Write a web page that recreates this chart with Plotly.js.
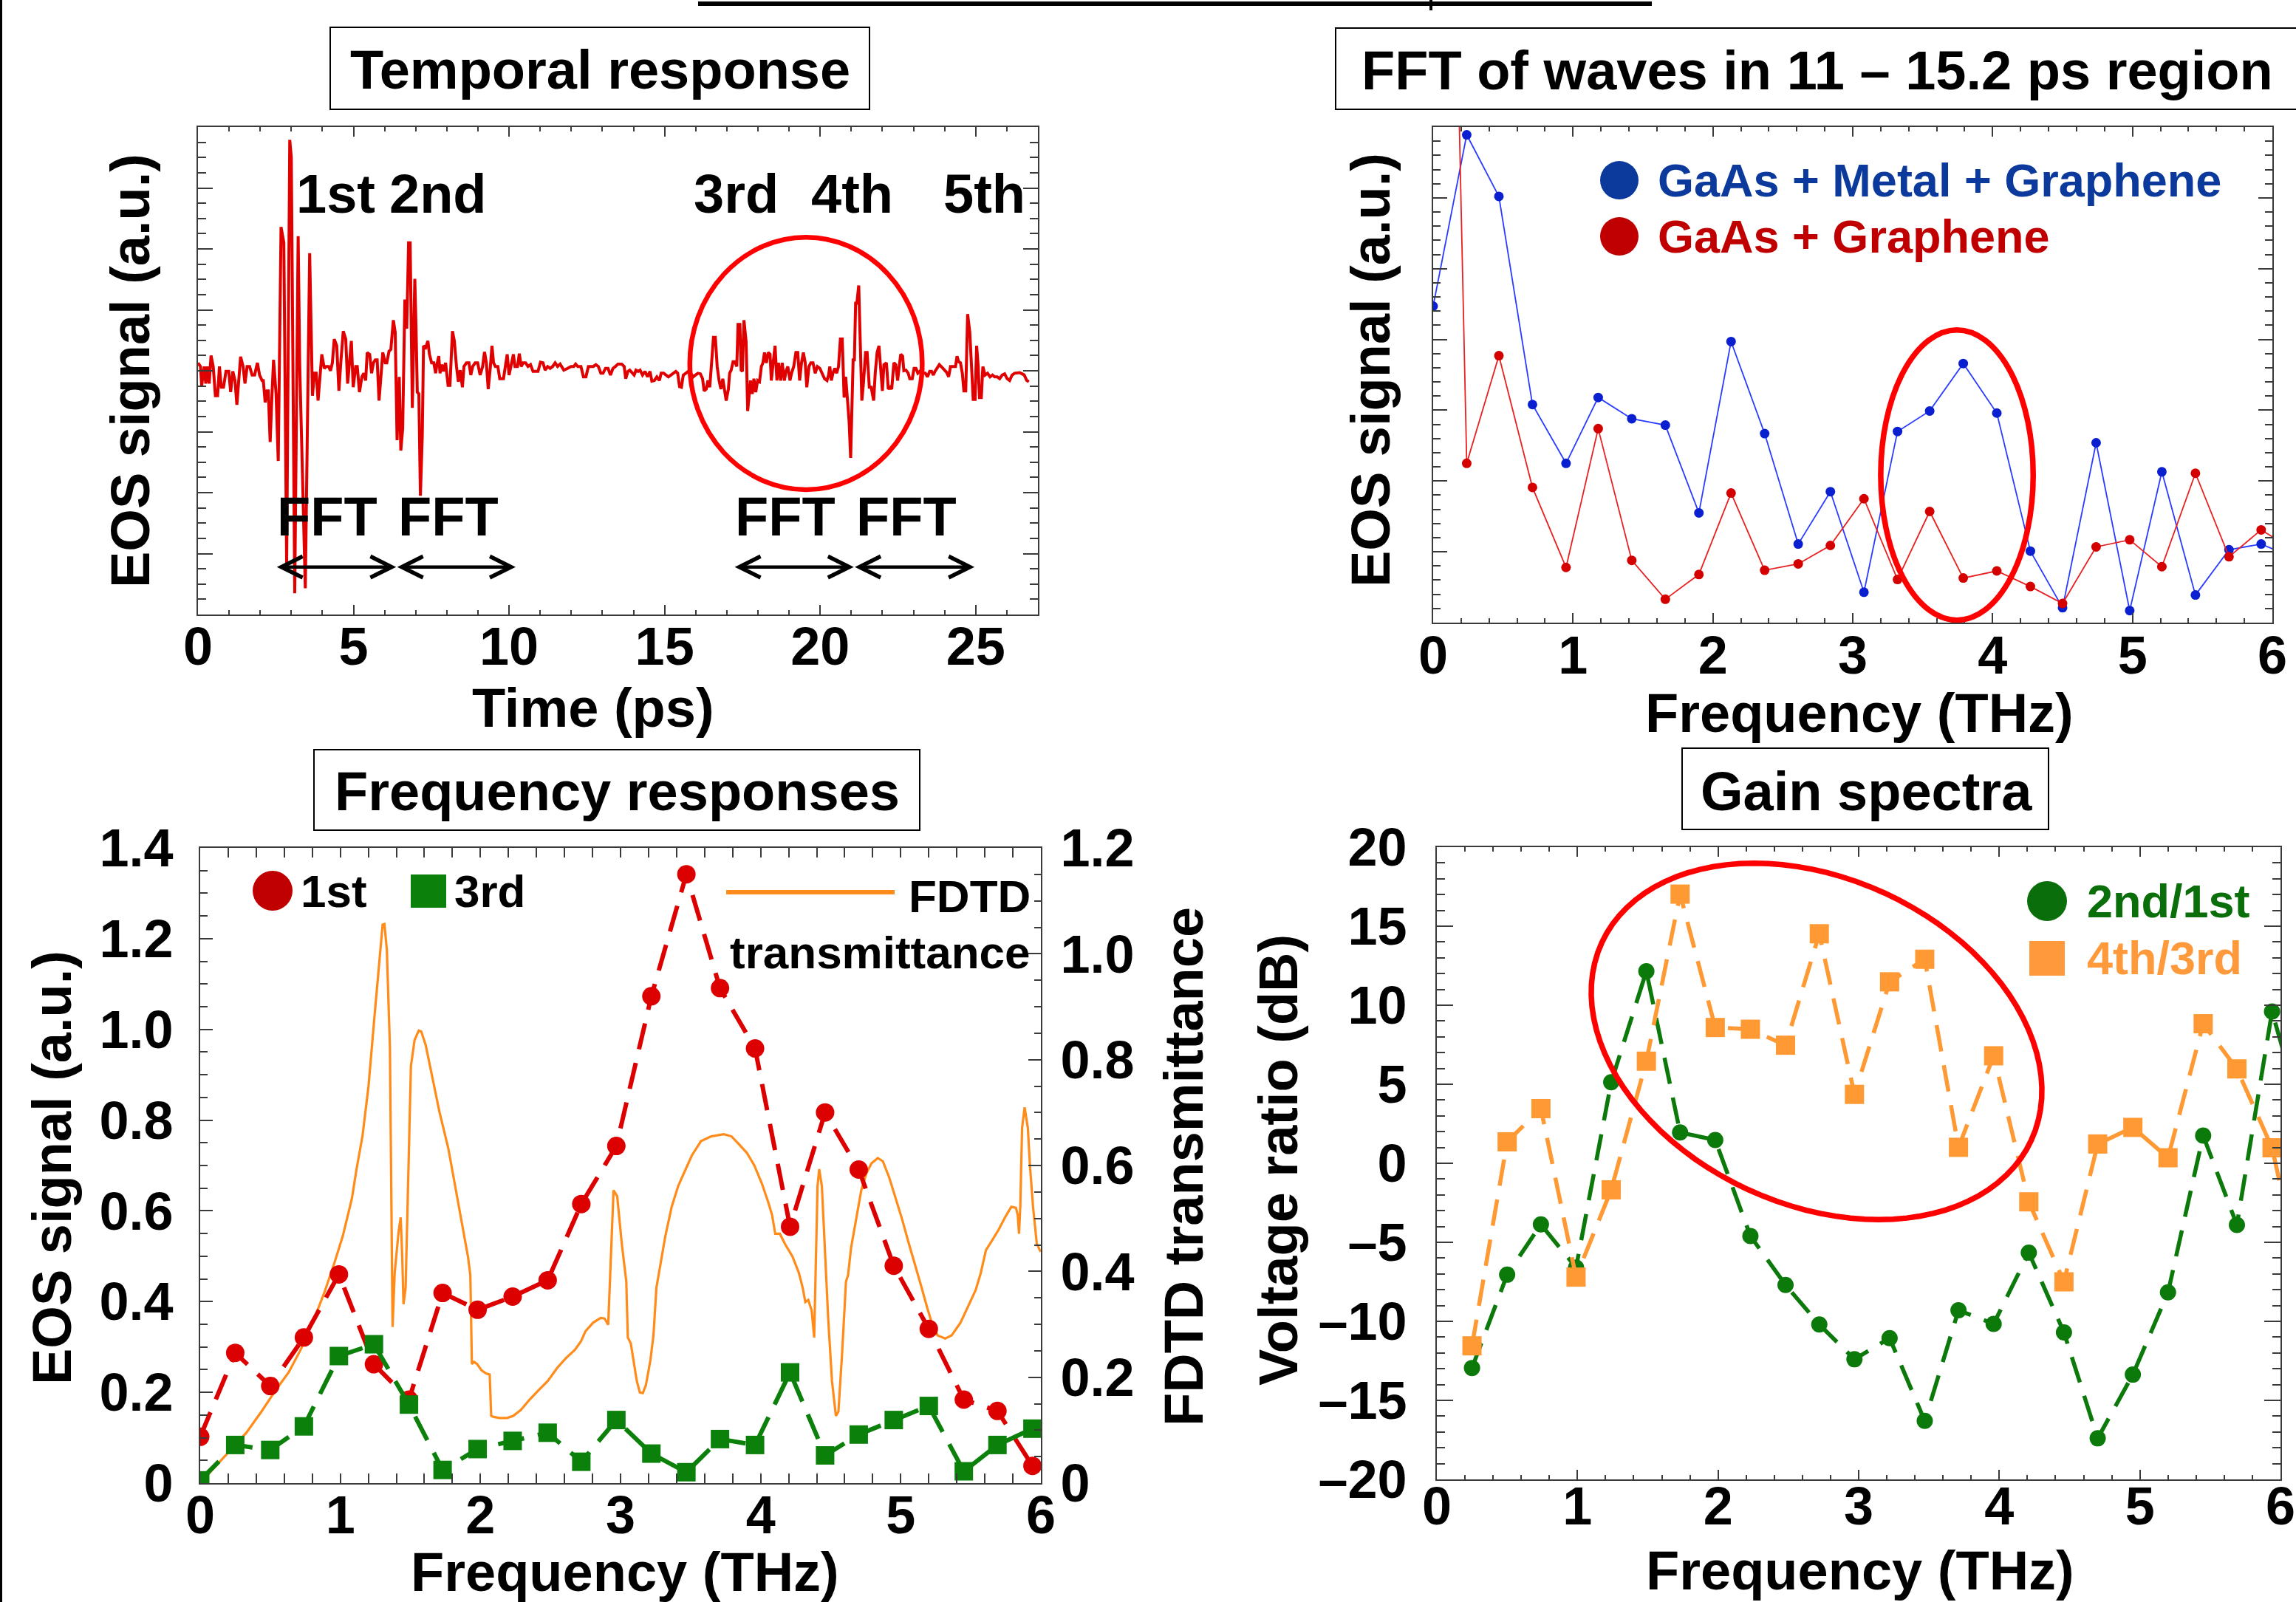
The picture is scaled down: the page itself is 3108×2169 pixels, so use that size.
<!DOCTYPE html>
<html><head><meta charset="utf-8">
<script src="https://cdn.plot.ly/plotly-3.0.1.min.js"></script>
<style>html,body{margin:0;padding:0;background:#fff;}#chart{width:3108px;height:2169px;}</style>
</head><body><div id="chart"></div>
<script>
// ---------- DATA ----------
// Panel 1: temporal response (ps, a.u.)
const timePs = [
0.00,0.08,0.12,0.20,0.25,0.30,0.36,0.42,0.49,0.56,0.63,0.69,0.75,0.82,0.90,0.99,1.05,1.12,1.19,1.25,
1.31,1.37,1.45,1.51,1.58,1.66,1.74,1.82,1.91,1.98,2.06,2.10,2.16,2.22,2.26,2.32,2.38,2.43,2.51,2.58,
2.67,2.76,2.85,2.95,3.00,3.11,3.22,3.27,3.45,3.59,3.64,3.68,3.74,3.80,3.86,3.92,3.98,4.06,4.12,4.20,
4.26,4.32,4.38,4.46,4.53,4.59,4.67,4.75,4.81,4.87,4.93,4.99,5.07,5.12,5.19,5.27,5.33,5.39,5.44,5.52,
5.58,5.64,5.70,5.76,5.82,5.88,5.94,6.02,6.07,6.14,6.20,6.28,6.34,6.40,6.47,6.52,6.58,6.65,6.71,6.77,
6.82,6.89,6.97,7.01,7.05,7.10,7.15,7.21,7.25,7.32,7.39,7.44,7.51,7.58,7.64,7.68,7.74,7.78,7.84,7.89,
7.96,8.04,8.10,8.18,8.24,8.31,8.37,8.43,8.50,8.55,8.63,8.71,8.77,8.83,8.91,8.99,9.07,9.15,9.21,9.27,
9.33,9.40,9.45,9.50,9.56,9.64,9.70,9.82,9.88,9.94,10.00,10.06,10.14,10.19,10.27,10.33,10.39,10.45,10.53,10.61,
10.69,10.77,10.85,10.93,11.01,11.09,11.16,11.24,11.32,11.40,11.48,11.56,11.64,11.76,11.88,11.99,12.08,12.14,12.21,12.31,
12.39,12.47,12.55,12.63,12.71,12.79,12.87,12.95,13.02,13.10,13.18,13.26,13.34,13.42,13.50,13.62,13.70,13.75,13.82,
13.88,13.96,14.02,14.08,14.15,14.21,14.29,14.37,14.45,14.53,14.59,14.67,14.75,14.83,14.89,14.97,15.04,15.12,15.20,15.28,
15.36,15.42,15.48,15.54,15.60,15.68,15.76,15.84,15.92,15.99,16.07,16.15,16.22,16.27,16.34,16.39,16.45,16.51,16.57,16.63,
16.69,16.75,16.81,16.87,16.92,16.98,17.05,17.09,17.14,17.20,17.26,17.32,17.36,17.42,17.46,17.50,17.55,17.62,17.67,17.72,
17.76,17.82,17.87,17.93,17.99,18.05,18.11,18.16,18.21,18.27,18.33,18.39,18.43,18.49,18.55,18.61,18.66,18.73,18.78,18.85,
18.90,18.96,19.03,19.08,19.15,19.22,19.28,19.34,19.40,19.46,19.52,19.57,19.64,19.70,19.77,19.84,19.91,19.99,20.07,20.14,
20.22,20.27,20.31,20.36,20.41,20.47,20.53,20.59,20.65,20.71,
20.77,20.82,20.88,20.93,20.98,21.04,21.06,21.10,21.14,21.18,21.24,21.28,21.34,21.39,21.46,21.51,21.58,21.64,21.72,21.77,
21.83,21.89,21.95,22.00,22.05,22.13,22.19,22.25,22.30,22.37,22.43,22.49,22.54,22.59,22.65,22.69,22.76,22.83,22.88,22.96,
23.02,23.08,23.14,23.22,23.30,23.38,23.45,23.52,23.58,23.64,23.69,23.75,23.83,23.89,23.95,24.02,24.07,24.13,24.19,24.27,
24.35,24.40,24.45,24.51,24.57,24.62,24.68,24.74,24.81,24.86,24.92,24.98,25.03,25.08,25.12,25.18,25.23,25.30,25.38,25.46,
25.54,25.61,25.69,25.77,25.85,25.93,26.01,26.09,26.17,26.25,26.33,26.41,26.49,26.56,26.64,26.71];
const eosSignal = [
0.13,0.07,-0.24,0.07,-0.21,0.07,-0.21,0.25,0.07,-0.41,-0.41,0.07,-0.27,-0.27,-0.01,-0.01,-0.35,-0.01,-0.16,-0.56,
-0.16,0.23,0.07,-0.21,0.07,0.07,-0.07,-0.07,0.13,-0.07,-0.16,-0.16,-0.52,-0.33,-0.33,-1.17,-0.38,0.18,-0.38,-1.48,
2.36,2.10,-3.20,3.79,3.50,-3.65,2.21,0.10,-3.57,1.93,0.63,-0.41,-0.04,-0.04,-0.49,-0.04,0.27,0.04,0.07,0.07,
0.00,0.13,0.52,0.41,-0.33,0.13,0.65,0.52,-0.21,0.13,0.49,-0.27,0.07,0.07,-0.35,-0.10,-0.04,-0.16,0.30,0.27,
-0.04,0.13,0.18,0.18,-0.49,-0.10,0.30,0.13,0.13,0.32,0.35,0.83,0.63,-1.14,-0.10,-1.31,-0.95,1.17,0.69,2.10,
2.10,-0.61,1.51,0.69,-0.35,-0.38,-2.05,-1.06,0.41,0.38,0.49,0.27,0.13,0.13,-0.04,0.10,0.24,-0.04,0.10,-0.01,
0.13,-0.24,-0.24,0.65,0.49,0.07,-0.18,0.01,-0.27,0.07,0.13,0.13,-0.07,0.07,0.13,0.13,-0.07,0.07,0.31,0.13,
-0.30,0.07,0.41,0.13,0.07,0.07,-0.13,-0.13,0.07,0.27,-0.07,0.07,0.27,0.07,0.07,0.28,0.07,0.13,0.13,0.07,
0.10,-0.01,-0.01,-0.01,0.14,0.13,0.01,0.07,0.04,0.07,0.13,0.07,0.11,0.01,0.04,0.07,0.07,0.11,0.07,0.07,
-0.10,-0.10,0.07,0.07,0.07,0.10,0.07,-0.04,-0.04,0.04,0.04,-0.07,0.04,0.07,0.11,0.11,0.07,-0.13,-0.01,
0.01,-0.04,-0.07,0.01,-0.01,0.01,-0.07,-0.01,-0.10,-0.01,-0.17,-0.16,-0.10,-0.16,-0.04,-0.04,-0.07,-0.10,-0.07,-0.04,
-0.01,-0.04,-0.26,-0.27,-0.07,-0.04,-0.01,-0.04,-0.10,-0.07,-0.04,-0.05,-0.13,-0.33,-0.30,-0.16,-0.27,0.13,0.55,0.55,
0.07,-0.16,-0.30,-0.13,-0.30,-0.49,-0.30,-0.04,0.01,0.15,0.15,0.07,0.76,0.76,0.01,-0.01,0.83,0.47,-0.66,-0.38,
-0.16,-0.38,-0.13,-0.35,-0.16,-0.18,0.07,0.13,0.30,0.13,0.30,0.27,-0.16,0.13,0.41,-0.16,0.13,-0.16,0.13,-0.16,
-0.01,0.07,-0.16,-0.04,0.07,0.30,0.30,-0.16,0.13,0.30,0.13,-0.27,0.07,0.13,0.13,-0.04,0.07,0.04,-0.04,-0.13,
-0.16,-0.07,0.07,-0.16,-0.04,0.04,-0.04,0.07,0.52,0.52,
-0.44,-0.10,-0.49,-0.83,-1.43,-0.44,0.18,0.18,1.11,1.11,1.40,0.63,-0.49,-0.21,0.30,0.30,-0.27,-0.27,-0.49,-0.04,
0.30,0.41,0.07,-0.33,0.10,0.13,-0.30,-0.27,-0.30,0.13,0.10,-0.16,0.07,0.27,0.24,0.00,0.01,-0.04,-0.13,-0.13,
0.04,0.04,-0.04,0.00,-0.04,-0.04,-0.10,-0.01,-0.01,-0.07,-0.01,0.04,0.10,0.07,0.04,0.01,-0.03,-0.10,0.07,0.07,
0.07,0.24,0.15,0.13,-0.04,-0.33,-0.33,0.93,0.63,0.13,-0.47,-0.47,0.41,0.07,-0.44,-0.44,0.07,-0.07,-0.04,-0.10,
-0.07,-0.10,-0.10,-0.13,-0.07,-0.05,-0.13,-0.16,-0.07,-0.04,-0.04,-0.03,-0.05,-0.07,-0.16,-0.18];
const pulseLabels = ['1st','2nd','3rd','4th','5th'];

// Panel 2: FFT of 11-15.2 ps window
const fftFreq = [0,0.24,0.47,0.71,0.95,1.18,1.42,1.66,1.90,2.13,2.37,2.61,2.84,3.08,3.32,3.55,3.79,4.03,4.27,4.50,4.74,4.98,5.21,5.45,5.69,5.92,6.16];
const fftMetal = [4.47,6.89,6.02,3.08,2.25,3.18,2.88,2.79,1.55,3.97,2.67,1.11,1.85,0.43,2.70,2.99,3.66,2.96,1.01,0.21,2.54,0.17,2.13,0.39,1.03,1.11,0.91];
const fftBare  = [24,2.25,3.77,1.91,0.78,2.74,0.88,0.33,0.68,1.83,0.74,0.83,1.09,1.75,0.61,1.57,0.63,0.73,0.51,0.27,1.07,1.17,0.79,2.11,0.93,1.31,1.02];

// Panel 3: frequency responses
const freqResp = [0,0.25,0.50,0.74,0.99,1.24,1.49,1.73,1.98,2.23,2.48,2.72,2.97,3.22,3.47,3.71,3.96,4.21,4.46,4.70,4.95,5.20,5.45,5.69,5.94];
const resp1st = [0.102,0.287,0.214,0.321,0.460,0.262,0.184,0.419,0.382,0.411,0.447,0.615,0.743,1.073,1.342,1.091,0.958,0.565,0.817,0.691,0.479,0.340,0.184,0.159,0.038];
const resp3rd = [0.006,0.084,0.073,0.125,0.280,0.306,0.173,0.029,0.075,0.093,0.111,0.047,0.139,0.065,0.024,0.097,0.084,0.244,0.061,0.107,0.139,0.170,0.026,0.084,0.120];
const fdtdFreq = [0.000,0.114,0.222,0.329,0.437,0.545,0.631,0.717,0.803,0.889,0.953,1.018,1.083,1.115,1.158,1.201,1.244,1.276,1.302,1.315,
1.332,1.354,1.373,1.388,1.416,1.431,1.442,1.451,1.466,1.504,1.530,1.560,1.578,1.610,1.642,1.707,1.771,1.836,1.879,1.911,
1.928,1.939,1.954,1.976,2.008,2.040,2.066,2.077,2.094,2.137,2.191,2.234,2.288,2.352,2.417,2.481,2.546,2.610,2.675,2.718,
2.750,2.804,2.858,2.886,2.912,2.950,2.976,3.009,3.041,3.052,3.073,3.095,3.116,3.138,3.159,3.181,3.213,3.235,3.256,3.284,
3.320,3.365,3.411,3.465,3.511,3.574,3.647,3.737,3.792,3.846,3.901,3.955,4.010,4.055,4.082,4.104,4.137,4.173,4.227,4.273,
4.300,4.319,4.340,4.364,4.382,4.406,4.418,4.437,4.455,4.482,4.509,4.537,4.555,4.582,4.609,4.624,4.645,4.682,4.718,4.754,
4.791,4.836,4.872,4.918,4.963,5.009,5.054,5.099,5.145,5.190,5.226,5.263,5.317,5.363,5.426,5.481,5.535,5.571,5.608,5.644,
5.699,5.744,5.789,5.822,5.835,5.844,5.853,5.866,5.884,5.907,5.922,5.944,5.971,5.998];
const fdtdTrans = [0.000,0.033,0.064,0.095,0.135,0.178,0.209,0.252,0.303,0.362,0.412,0.467,0.538,0.592,0.655,0.749,0.882,0.984,1.055,1.056,
1.008,0.824,0.295,0.397,0.475,0.502,0.428,0.338,0.369,0.788,0.837,0.855,0.853,0.827,0.784,0.702,0.632,0.538,0.475,0.428,
0.393,0.225,0.229,0.225,0.213,0.207,0.205,0.127,0.125,0.123,0.123,0.127,0.138,0.158,0.176,0.193,0.217,0.236,0.252,0.268,
0.287,0.303,0.312,0.311,0.299,0.553,0.542,0.452,0.381,0.275,0.264,0.225,0.193,0.171,0.170,0.185,0.232,0.279,0.369,0.412,
0.467,0.522,0.561,0.593,0.620,0.646,0.655,0.659,0.655,0.640,0.624,0.600,0.565,0.530,0.506,0.471,0.471,0.452,0.428,0.397,
0.369,0.342,0.346,0.326,0.275,0.561,0.593,0.561,0.459,0.311,0.193,0.127,0.135,0.248,0.381,0.393,0.444,0.502,0.553,0.585,
0.604,0.614,0.608,0.577,0.538,0.499,0.456,0.416,0.373,0.330,0.299,0.279,0.273,0.279,0.303,0.334,0.365,0.397,0.440,0.455,
0.479,0.502,0.522,0.520,0.506,0.471,0.522,0.671,0.710,0.671,0.600,0.522,0.452,0.437];

// Panel 4: gain spectra (dB)
const gainFreq = [0.25,0.50,0.74,0.99,1.24,1.49,1.73,1.98,2.23,2.48,2.72,2.97,3.22,3.47,3.71,3.96,4.21,4.46,4.70,4.95,5.20,5.45,5.69,5.94,6.19];
const gain2nd1st = [-12.95,-7.05,-3.87,-6.6,5.13,12.15,1.95,1.47,-4.6,-7.7,-10.2,-12.4,-11.06,-16.3,-9.3,-10.16,-5.65,-10.7,-17.4,-13.37,-8.17,1.75,-3.9,9.6,1.8];
const gain4th3rd = [-11.55,1.36,3.46,-7.2,-1.68,6.46,17.03,8.59,8.48,7.47,14.52,4.36,11.48,12.91,1.01,6.8,-2.44,-7.5,1.22,2.27,0.35,8.83,5.97,0.98,-9];

const leftTicks = [0,0.2,0.4,0.6,0.8,1.0,1.2,1.4];
const leftTickText = ['0','0.2','0.4','0.6','0.8','1.0','1.2','1.4'];
const rightTicks = [0,0.2,0.4,0.6,0.8,1.0,1.2];
const rightTickText = ['0','0.2','0.4','0.6','0.8','1.0','1.2'];
const dbTicks = [-20,-15,-10,-5,0,5,10,15,20];
const dbTickText = ['\u201320','\u201315','\u201310','\u20135','0','5','10','15','20'];

// ---------- STYLE / LAYOUT ----------
const W = 3108, H = 2169;
const PX = x => x / W, PY = y => 1 - y / H;
const FONT = 'Liberation Sans, Arial, Helvetica, sans-serif';
const AX = '#3a3a3a';
const DASH = '36px,19px';

function axis(extra, minorDtick, minorLen) {
  return Object.assign({
    showline: true, linecolor: AX, linewidth: 2, mirror: 'allticks',
    ticks: 'inside', tickcolor: AX, tickwidth: 2,
    showgrid: false, zeroline: false, fixedrange: true,
    tickfont: {family: FONT, size: 72, color: '#000', weight: 'bold'},
    minor: {ticks: 'inside', dtick: minorDtick, ticklen: minorLen, tickcolor: AX, tickwidth: 2, showgrid: false}
  }, extra);
}

const traces = [
  {x: timePs, y: eosSignal, xaxis: 'x', yaxis: 'y', mode: 'lines', line: {color: '#e00000', width: 4}, hoverinfo: 'skip'},
  {x: fftFreq, y: fftMetal, xaxis: 'x2', yaxis: 'y2', mode: 'lines+markers', line: {color: '#2a3cff', width: 1.8}, marker: {color: '#0a1fd0', size: 13}},
  {x: fftFreq, y: fftBare, xaxis: 'x2', yaxis: 'y2', mode: 'lines+markers', line: {color: '#e82020', width: 1.8}, marker: {color: '#d40000', size: 13}},
  {x: fdtdFreq, y: fdtdTrans, xaxis: 'x3', yaxis: 'y3', mode: 'lines', line: {color: '#ff8c1a', width: 3.2}},
  {x: freqResp, y: resp1st, xaxis: 'x3', yaxis: 'y4', mode: 'lines+markers', line: {color: '#dd0000', width: 6, dash: DASH}, marker: {color: '#dd0000', size: 25, symbol: 'circle'}},
  {x: freqResp, y: resp3rd, xaxis: 'x3', yaxis: 'y4', mode: 'lines+markers', line: {color: '#0b800b', width: 6, dash: DASH}, marker: {color: '#0b800b', size: 25, symbol: 'square'}},
  {x: gainFreq, y: gain2nd1st, xaxis: 'x4', yaxis: 'y5', mode: 'lines+markers', line: {color: '#0b7a0b', width: 5.5, dash: DASH}, marker: {color: '#0b7a0b', size: 22, symbol: 'circle'}},
  {x: gainFreq, y: gain4th3rd, xaxis: 'x4', yaxis: 'y5', mode: 'lines+markers', line: {color: '#ff9933', width: 5.5, dash: DASH}, marker: {color: '#ff9933', size: 26, symbol: 'square'}}
];

function T(x, y, text, size, o) {
  return Object.assign({xref: 'paper', yref: 'paper', x: x, y: y, text: text, showarrow: false,
    xanchor: 'center', yanchor: 'middle', font: {family: FONT, size: size, color: '#000', weight: 'bold'}}, o || {});
}
function D(x, y, text) {
  return {xref: 'x', yref: 'y', x: x, y: y, text: text, showarrow: false, xanchor: 'center', yanchor: 'middle',
    font: {family: FONT, size: 74, color: '#000', weight: 'bold'}};
}
function arrow(x0, x1, y) {
  return {xref: 'x', yref: 'y', axref: 'x', ayref: 'y', x: x1, y: y, ax: x0, ay: y, text: '', showarrow: true,
    arrowside: 'end+start', arrowhead: 5, startarrowhead: 5, arrowsize: 1.25, startarrowsize: 1.25,
    arrowwidth: 4.5, arrowcolor: '#000', standoff: 0, startstandoff: 0};
}

const labelT = [4.43, 7.71, 17.31, 21.02, 25.29];
const annotations = [
  // box titles
  T(PX(813), PY(95), 'Temporal response', 74),
  T(PX(2460), PY(96), 'FFT of waves in 11 \u2013 15.2 ps region', 74),
  T(PX(836), PY(1071), 'Frequency responses', 74),
  T(PX(2526), PY(1071), 'Gain spectra', 74),
  // axis titles
  T(PX(176), PY(502), 'EOS signal (a.u.)', 74, {textangle: -90}),
  T(PX(803), PY(958), 'Time (ps)', 74),
  T(PX(1855), PY(501), 'EOS signal (a.u.)', 74, {textangle: -90}),
  T(PX(2517), PY(966), 'Frequency (THz)', 74),
  T(PX(70), PY(1581), 'EOS signal (a.u.)', 74, {textangle: -90}),
  T(PX(1602), PY(1580), 'FDTD transmittance', 74, {textangle: -90}),
  T(PX(846), PY(2128), 'Frequency (THz)', 74),
  T(PX(1730), PY(1570), 'Voltage ratio (dB)', 74, {textangle: -90}),
  T(PX(2518), PY(2126), 'Frequency (THz)', 74),
  // legends
  T(PX(2242), PY(244), 'GaAs + Metal + Graphene', 63, {xanchor: 'left', font: {family: FONT, size: 63, color: '#0b3a9c', weight: 'bold'}}),
  T(PX(2242), PY(320), 'GaAs + Graphene', 63, {xanchor: 'left', font: {family: FONT, size: 63, color: '#c00000', weight: 'bold'}}),
  T(PX(405), PY(1206), '1st', 62, {xanchor: 'left'}),
  T(PX(613), PY(1206), '3rd', 62, {xanchor: 'left'}),
  T(PX(1397), PY(1213), 'FDTD', 62, {xanchor: 'right'}),
  T(PX(1397), PY(1289), 'transmittance', 62, {xanchor: 'right'}),
  T(PX(2823), PY(1220), '2nd/1st', 63, {xanchor: 'left', font: {family: FONT, size: 63, color: '#0a6e0a', weight: 'bold'}}),
  T(PX(2823), PY(1297), '4th/3rd', 63, {xanchor: 'left', font: {family: FONT, size: 63, color: '#ff9a3c', weight: 'bold'}}),
  // panel 1 labels
  D(4.15, -2.40, 'FFT'), D(8.04, -2.40, 'FFT'), D(18.88, -2.40, 'FFT'), D(22.77, -2.40, 'FFT'),
  arrow(2.50, 6.37, -3.22), arrow(6.37, 10.21, -3.22), arrow(17.22, 21.08, -3.22), arrow(21.08, 24.96, -3.22)
];
pulseLabels.forEach((t, i) => annotations.push(D(labelT[i], 2.90, t)));

// tilted ellipse for gain spectra (pixel geometry -> paper)
function tiltedEllipse(cx, cy, a, b, deg) {
  const th = deg * Math.PI / 180; let p = '';
  for (let i = 0; i <= 96; i++) {
    const t = i / 96 * 2 * Math.PI;
    const x = cx + a * Math.cos(t) * Math.cos(th) - b * Math.sin(t) * Math.sin(th);
    const y = cy + a * Math.cos(t) * Math.sin(th) + b * Math.sin(t) * Math.cos(th);
    p += (i ? 'L' : 'M') + PX(x).toFixed(5) + ',' + PY(y).toFixed(5);
  }
  return p + 'Z';
}
function pcircle(cx, cy, r, color) {
  return {type: 'circle', xref: 'paper', yref: 'paper', x0: PX(cx - r), x1: PX(cx + r), y0: PY(cy + r), y1: PY(cy - r),
    fillcolor: color, line: {width: 0}};
}
function prect(x0, y0, x1, y1, o) {
  return Object.assign({type: 'rect', xref: 'paper', yref: 'paper', x0: PX(x0), x1: PX(x1), y0: PY(y1), y1: PY(y0),
    line: {color: '#000', width: 2}, fillcolor: 'rgba(0,0,0,0)'}, o || {});
}

const shapes = [
  // title boxes
  prect(447, 37, 1177, 148), prect(1808, 38, 3140, 148), prect(425, 1015, 1245, 1124), prect(2277, 1013, 2773, 1123),
  // page decorations
  {type: 'line', xref: 'paper', yref: 'paper', x0: PX(945), x1: PX(2236), y0: PY(5), y1: PY(5), line: {color: '#000', width: 6}},
  {type: 'line', xref: 'paper', yref: 'paper', x0: PX(1937), x1: PX(1937), y0: PY(0), y1: PY(14), line: {color: '#000', width: 4}},
  {type: 'line', xref: 'paper', yref: 'paper', x0: PX(1.5), x1: PX(1.5), y0: 0, y1: 1, line: {color: '#000', width: 3}},
  // highlight ellipses
  {type: 'circle', xref: 'x', yref: 'y', x0: 15.81, x1: 23.28, y0: -1.95, y1: 2.19, line: {color: '#ff0000', width: 6.5}},
  {type: 'circle', xref: 'x2', yref: 'y2', x0: 3.20, x1: 4.29, y0: 0.035, y1: 4.135, line: {color: '#ff0000', width: 7.5}},
  {type: 'path', xref: 'paper', yref: 'paper', path: tiltedEllipse(2459, 1410, 320, 221, 24.7), line: {color: '#ff0000', width: 7.5}},
  // legend symbols
  pcircle(2192, 244, 26, '#0b3a9c'), pcircle(2192, 320, 26, '#c00000'),
  pcircle(369, 1206, 27, '#c00000'), prect(556, 1184, 604, 1229, {fillcolor: '#0b800b', line: {width: 0}}),
  {type: 'line', xref: 'paper', yref: 'paper', x0: PX(983), x1: PX(1211), y0: PY(1208), y1: PY(1208), line: {color: '#ff8c1a', width: 6}},
  pcircle(2771, 1220, 27, '#0a6e0a'), prect(2747, 1274, 2795, 1321, {fillcolor: '#ff9a3c', line: {width: 0}})
];

const layout = {
  width: W, height: H, margin: {l: 0, r: 0, t: 0, b: 0}, showlegend: false,
  paper_bgcolor: '#fff', plot_bgcolor: '#fff',
  xaxis: axis({domain: [PX(268), PX(1405)], anchor: 'y', range: [0, 27], dtick: 5, tick0: 0, ticklen: 13, ticklabelstandoff: -20}, 1, 6),
  yaxis: axis({domain: [PY(832), PY(172)], anchor: 'x', range: [-4, 4], dtick: 1, tick0: 0, ticklen: 20, showticklabels: false}, 0.25, 11),
  xaxis2: axis({domain: [PX(1940), PX(3076)], anchor: 'y2', range: [0, 6], dtick: 1, tick0: 0, ticklen: 13, ticklabelstandoff: -19}, 0.2, 6),
  yaxis2: axis({domain: [PY(843), PY(172)], anchor: 'x2', range: [0, 7], dtick: 1, tick0: 0, ticklen: 19, showticklabels: false}, 0.2, 10),
  xaxis3: axis({domain: [PX(271), PX(1409)], anchor: 'y3', range: [0, 6], dtick: 1, tick0: 0, ticklen: 13, ticklabelstandoff: -20}, 0.2, 6),
  yaxis3: axis({domain: [PY(2008), PY(1148)], anchor: 'x3', side: 'right', mirror: false, range: [0, 1.2],
    tickmode: 'array', tickvals: rightTicks, ticktext: rightTickText, ticklen: 17, ticklabelstandoff: 10}, 0.05, 9),
  yaxis4: axis({overlaying: 'y3', anchor: 'x3', side: 'left', mirror: false, range: [0, 1.4],
    tickmode: 'array', tickvals: leftTicks, ticktext: leftTickText, ticklen: 17, ticklabelstandoff: 20}, 0.05, 10),
  xaxis4: axis({domain: [PX(1945), PX(3087)], anchor: 'y5', range: [0, 6], dtick: 1, tick0: 0, ticklen: 13, ticklabelstandoff: -27}, 0.2, 6),
  yaxis5: axis({domain: [PY(2003), PY(1147)], anchor: 'x4', range: [-20, 20],
    tickmode: 'array', tickvals: dbTicks, ticktext: dbTickText, ticklen: 22, ticklabelstandoff: 24}, 1, 11),
  annotations: annotations,
  shapes: shapes
};

Plotly.newPlot('chart', traces, layout, {displayModeBar: false, staticPlot: true});
</script></body></html>
